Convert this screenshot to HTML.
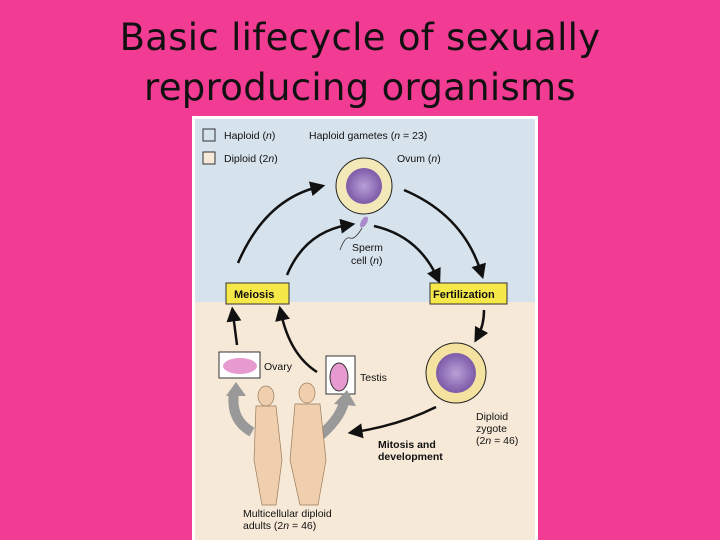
<!DOCTYPE html>
<html><head><style>
body{margin:0;width:720px;height:540px;background:#f23c94;position:relative;overflow:hidden;font-family:"Liberation Sans",sans-serif}
.t{position:absolute;left:0;width:720px;text-align:center;font-family:"DejaVu Sans",sans-serif;font-size:37px;color:#111;line-height:50px;letter-spacing:0.3px}
</style></head><body>
<div class="t" style="top:13px">Basic lifecycle of sexually<br>reproducing organisms</div>
<svg style="position:absolute;left:0;top:0" width="720" height="540" font-family="Liberation Sans, sans-serif" font-size="10.5" fill="#111">
<defs><marker id="a" markerWidth="6" markerHeight="6" refX="3" refY="3" orient="auto"><path d="M0,0L6,3L0,6z" fill="#111"/></marker>
<radialGradient id="g"><stop offset="0" stop-color="#b8a0d8"/><stop offset="1" stop-color="#7d5aa8"/></radialGradient></defs>
<rect x="192" y="116" width="346" height="424" fill="#fff"/>
<rect x="195" y="119" width="340" height="183" fill="#d6e2ec"/>
<rect x="195" y="302" width="340" height="238" fill="#f7e9d8"/>
<rect x="203" y="129" width="12" height="12" fill="#d6e2ec" stroke="#333"/>
<rect x="203" y="152" width="12" height="12" fill="#f7e9d8" stroke="#333"/>
<text x="224" y="139">Haploid (<tspan font-style="italic">n</tspan>)</text>
<text x="224" y="162">Diploid (2<tspan font-style="italic">n</tspan>)</text>
<text x="309" y="139">Haploid gametes (<tspan font-style="italic">n</tspan> = 23)</text>
<text x="397" y="162">Ovum (<tspan font-style="italic">n</tspan>)</text>
<circle cx="364" cy="186" r="28" fill="#f3e9b8" stroke="#222"/>
<circle cx="364" cy="186" r="18" fill="url(#g)"/>
<ellipse cx="364" cy="222" rx="3" ry="6" fill="#a88bc8" transform="rotate(30 364 222)"/>
<path d="M362,228 Q355,240 350,238 T340,250" stroke="#333" fill="none" stroke-width="0.8"/>
<text x="352" y="251">Sperm</text><text x="351" y="264">cell (<tspan font-style="italic">n</tspan>)</text>
<g stroke="#111" stroke-width="2.5" fill="none">
<path d="M238,263 Q265,200 318,187" marker-end="url(#a)"/>
<path d="M287,275 Q305,232 348,225" marker-end="url(#a)"/>
<path d="M374,226 Q418,236 437,277" marker-end="url(#a)"/>
<path d="M404,190 Q463,215 481,272" marker-end="url(#a)"/>
<path d="M484,310 Q484,325 478,336" marker-end="url(#a)"/>
<path d="M237,345 L233,314" marker-end="url(#a)"/>
<path d="M317,372 Q290,355 281,313" marker-end="url(#a)"/>
<path d="M436,407 Q400,425 355,432" marker-end="url(#a)"/>
</g>
<rect x="226" y="283" width="63" height="21" fill="#f7e84a" stroke="#333"/>
<text x="234" y="298" font-weight="bold" font-size="11">Meiosis</text>
<rect x="430" y="283" width="77" height="21" fill="#f7e84a" stroke="#333"/>
<text x="433" y="298" font-weight="bold" font-size="11">Fertilization</text>
<circle cx="456" cy="373" r="30" fill="#f3e2a0" stroke="#222"/>
<circle cx="456" cy="373" r="20" fill="url(#g)"/>
<text x="476" y="420">Diploid</text><text x="476" y="432">zygote</text><text x="476" y="444">(2<tspan font-style="italic">n</tspan> = 46)</text>
<text x="378" y="448" font-weight="bold">Mitosis and</text><text x="378" y="460" font-weight="bold">development</text>
<rect x="219" y="352" width="41" height="26" fill="#fff" stroke="#333"/>
<ellipse cx="240" cy="366" rx="17" ry="8" fill="#e69ad0"/>
<text x="264" y="370">Ovary</text>
<rect x="326" y="356" width="29" height="38" fill="#fff" stroke="#333"/>
<ellipse cx="339" cy="377" rx="9" ry="14" fill="#e69ad0" stroke="#333"/>
<text x="360" y="381">Testis</text>
<path d="M252,432 Q230,420 234,392" stroke="#999" stroke-width="10" fill="none"/>
<path d="M226,396 L236,382 L246,396z" fill="#999"/>
<path d="M315,440 Q340,420 344,402" stroke="#999" stroke-width="10" fill="none"/>
<path d="M334,404 L347,390 L356,406z" fill="#999"/>
<g fill="#efcfae" stroke="#9a7b5a" stroke-width="0.7">
<ellipse cx="266" cy="396" rx="8" ry="10"/><path d="M256,406 L276,406 L282,460 L276,505 L262,505 L254,460z"/>
<ellipse cx="307" cy="393" rx="8" ry="10"/><path d="M295,404 L320,404 L326,460 L318,505 L300,505 L290,460z"/>
</g>
<text x="243" y="517">Multicellular diploid</text><text x="243" y="529">adults (2<tspan font-style="italic">n</tspan> = 46)</text>
</svg>
</body></html>
